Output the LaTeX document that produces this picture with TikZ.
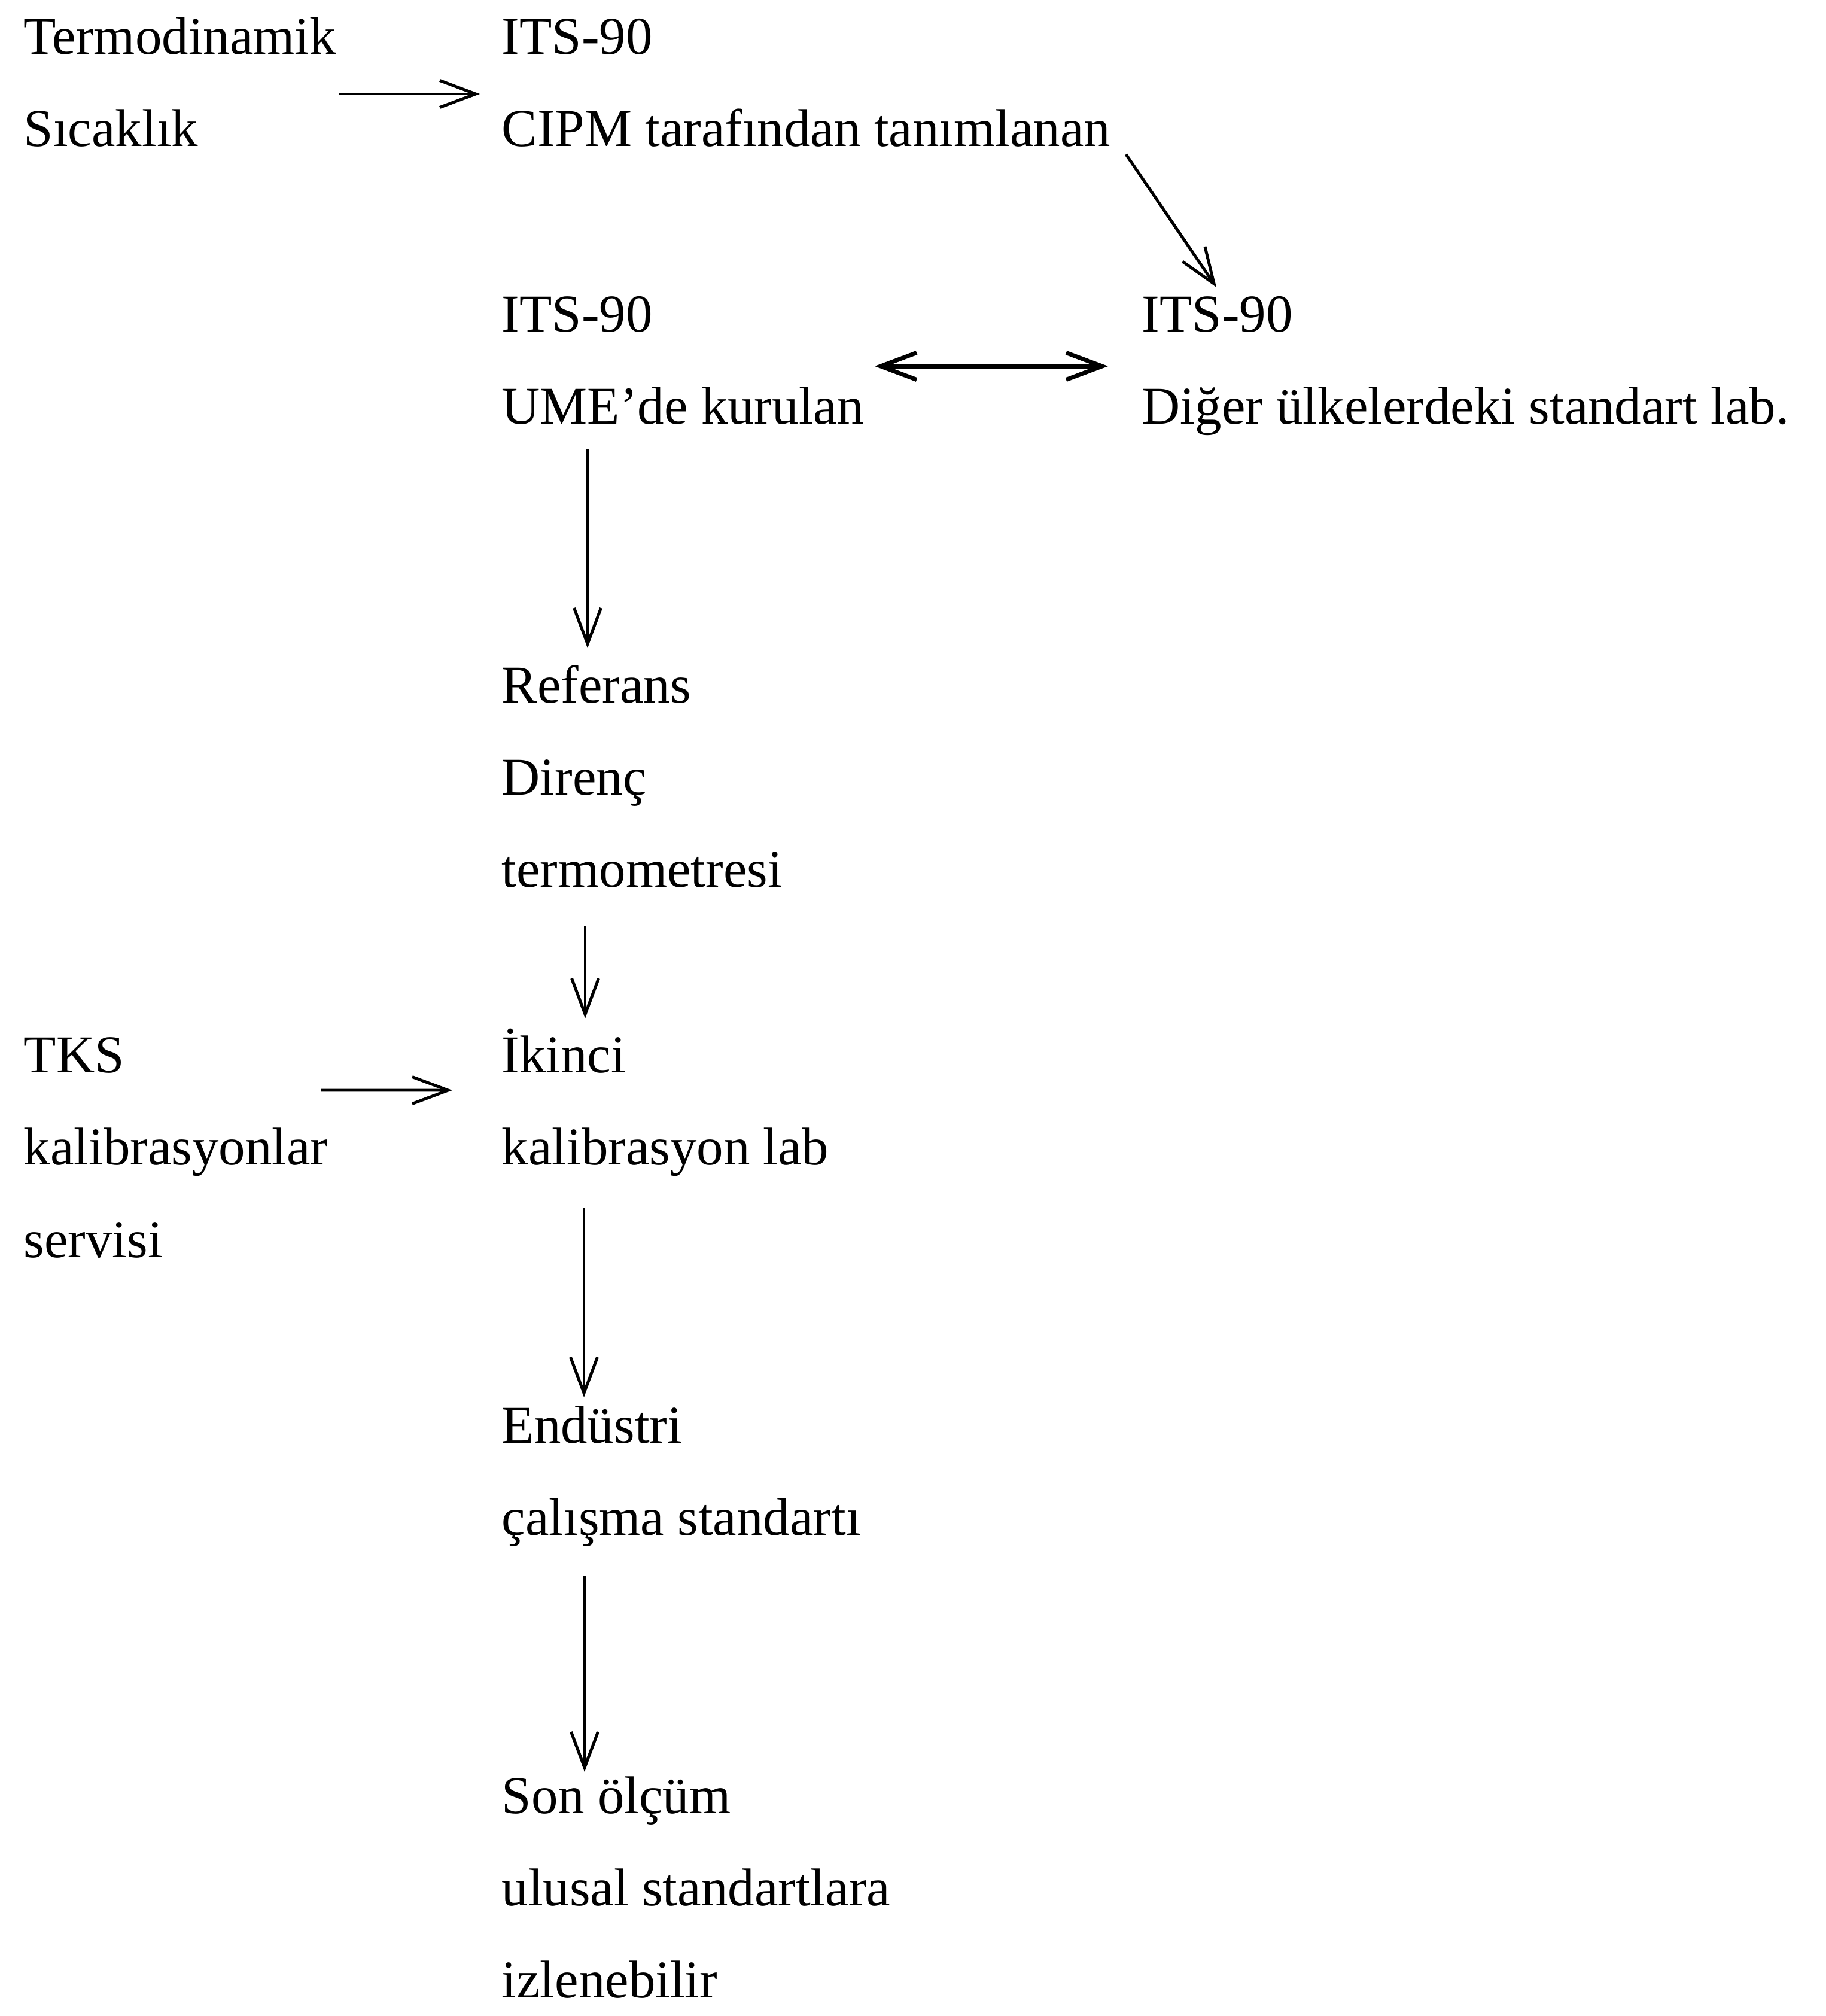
\documentclass[tikz,border=0pt]{standalone}
\usepackage{fontspec}
\setmainfont{Liberation Serif}
\usetikzlibrary{arrows.meta}

\tikzset{
  lbl/.style={anchor=base west, inner sep=0pt, align=left,
    font=\fontsize{25.3}{43.86}\selectfont},
  arr/.style={-{Straight Barb[length=0.6cm, width=0.45cm]}, line width=1.4pt},
  darr/.style={{Straight Barb[length=0.6cm, width=0.45cm]}-{Straight Barb[length=0.6cm, width=0.45cm]}, line width=2pt}
}

\begin{document}
\begin{tikzpicture}
  \useasboundingbox (0,0) rectangle (30.51,-33.69);

  % Top row (nodes sit on the baseline of their last line)
  \node[lbl] (termo) at (0.39, -0.90 - 1 * 1.547) {Termodinamik\\Sıcaklık};
  \node[lbl] (itsa) at (8.38, -0.90 - 1 * 1.547) {ITS-90\\CIPM tarafından tanımlanan};

  \draw[arr] ([xshift=5.28cm, yshift=0.877cm]termo.base west) -- ([xshift=-0.36cm, yshift=0.877cm]itsa.base west);

  % ITS-90 realisations
  \node[lbl] (itsb) at (8.38, -0.90 - 4 * 1.547) {ITS-90\\UME’de kurulan};
  \node[lbl] (itsc) at (19.08, -0.90 - 4 * 1.547) {ITS-90\\Diğer ülkelerdeki standart lab.};

  \draw[arr] ([xshift=10.44cm, yshift=-0.133cm]itsa.base west) -- ([xshift=1.25cm, yshift=2.288cm]itsc.base west);
  \draw[darr] ([xshift=6.24cm, yshift=0.968cm]itsb.base west) -- ([xshift=-0.56cm, yshift=0.968cm]itsc.base west);

  % Reference thermometer
  \node[lbl] (ref) at (8.38, -0.90 - 9 * 1.547) {Referans\\Direnç\\termometresi};

  \draw[arr] ([xshift=1.44cm, yshift=-0.412cm]itsb.base west) -- ([xshift=1.44cm, yshift=3.993cm]ref.base west);

  % Second level
  \node[lbl] (tks) at (0.39, -0.90 - 13 * 1.547) {TKS\\kalibrasyonlar\\servisi};
  \node[lbl] (ikinci) at (8.38, -0.90 - 12 * 1.547) {İkinci\\kalibrasyon lab};

  \draw[arr] ([xshift=1.40cm, yshift=-0.647cm]ref.base west) -- ([xshift=1.40cm, yshift=2.444cm]ikinci.base west);
  \draw[arr] ([xshift=4.98cm, yshift=2.791cm]tks.base west) -- ([xshift=-0.82cm, yshift=1.244cm]ikinci.base west);

  % Industry and final measurement
  \node[lbl] (endus) at (8.38, -0.90 - 16 * 1.547) {Endüstri\\çalışma standartı};
  \node[lbl] (son) at (8.38, -0.90 - 21 * 1.547) {Son ölçüm\\ulusal standartlara\\izlenebilir};

  \draw[arr] ([xshift=1.38cm, yshift=-0.716cm]ikinci.base west) -- ([xshift=1.38cm, yshift=2.302cm]endus.base west);
  \draw[arr] ([xshift=1.39cm, yshift=-0.678cm]endus.base west) -- ([xshift=1.39cm, yshift=3.777cm]son.base west);
\end{tikzpicture}
\end{document}
